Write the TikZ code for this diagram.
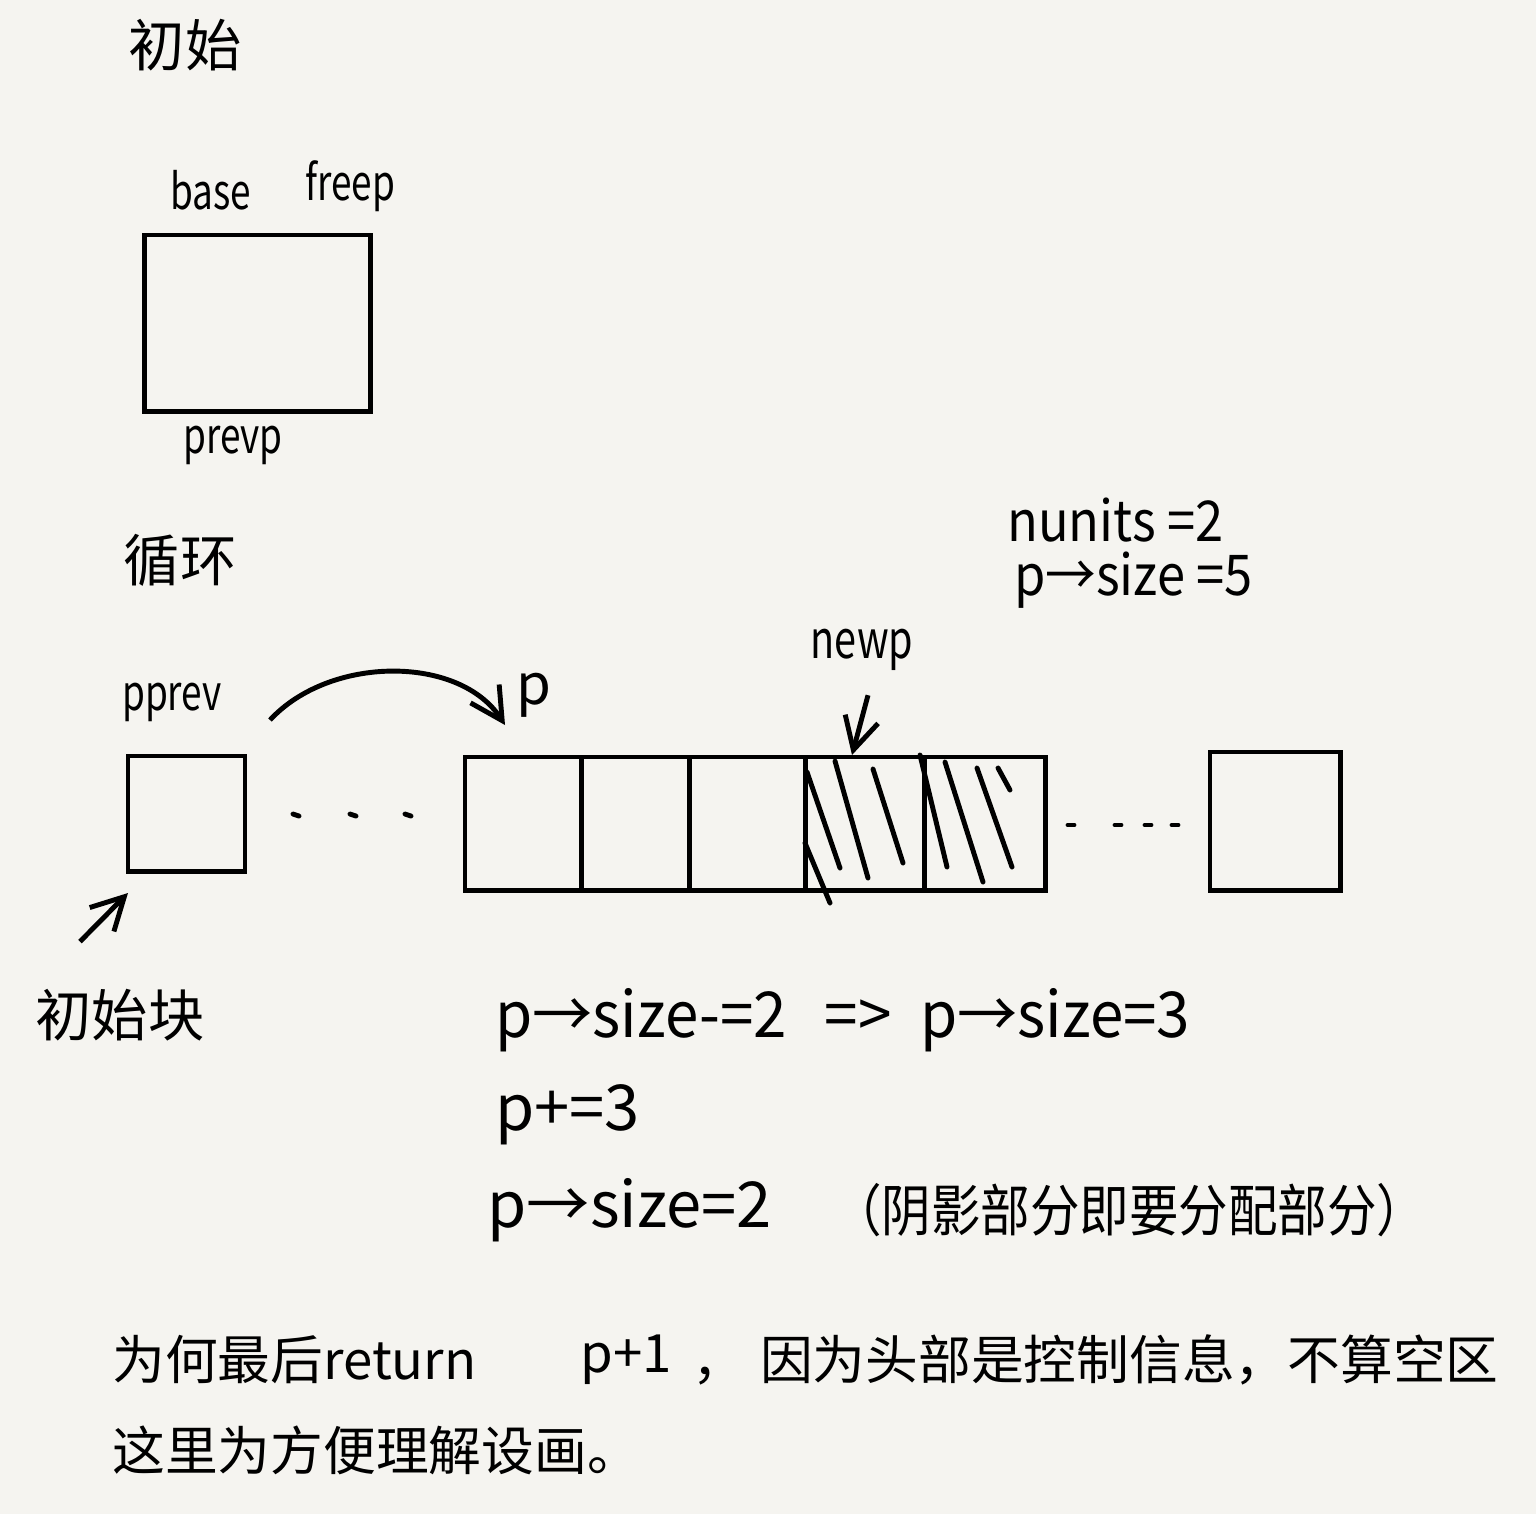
\documentclass[tikz,border=0pt]{standalone}
\usepackage{fontspec}
\setmainfont{Noto Sans CJK SC}
\usepackage{tikz}
\usetikzlibrary{arrows.meta}
\definecolor{paper}{HTML}{F5F4F0}

\begin{document}
\begin{tikzpicture}[auto,x=0.01cm,y=-0.01cm,line width=1.4pt,
    >={Straight Barb[length=3.2mm,width=3.4mm]},
    hand/.style={font=\fontsize{16}{19}\selectfont,inner sep=0pt},
    tag/.style={font=\fontsize{14}{17}\selectfont,inner sep=0pt,xscale=0.75},
    expr/.style={font=\fontsize{16}{19}\selectfont,inner sep=0pt,xscale=0.9},
    stepline/.style={font=\fontsize{18}{21}\selectfont,inner sep=0pt},
    remark/.style={font=\fontsize{15}{18}\selectfont,inner sep=0pt},
    cell/.style={draw,inner sep=0pt,outer sep=0pt,minimum height=1.33cm},
    hatch/.style={line cap=round}]
    \fill[paper] (0,0) rectangle (1536,1514);
    \useasboundingbox (0,0) rectangle (1536,1514);
    \node[hand] (init) at (185,45) {初始};
    \node[cell,minimum width=2.25cm,minimum height=1.76cm] (start) at (257.5,323) {};
    \node[tag] (base) at (211,190) {base};
    \node[tag] (freep) at (350,186) {freep};
    \node[tag] (prevp) at (233,445) {prevp};
    \node[hand] (loop) at (180,560) {循环};
    \node[cell,minimum width=1.17cm,minimum height=1.15cm] (pprevbox) at (186.5,813.5) {};
    \node[tag] (pprev) at (172,702) {pprev};
    \node[hand] (initblk) at (120,1015) {初始块};
    \node[cell,minimum width=1.16cm] (c1) at (523,823.5) {};
    \node[cell,minimum width=1.08cm] (c2) at (635,823.5) {};
    \node[cell,minimum width=1.16cm] (c3) at (747,823.5) {};
    \node[cell,minimum width=1.19cm] (c4) at (864.5,823.5) {};
    \node[cell,minimum width=1.21cm] (c5) at (984.5,823.5) {};
    \node[cell,minimum width=1.30cm,minimum height=1.38cm] (last) at (1275,821) {};
    \node[hand] (p) at (534,695) {p};
    \node[tag,font=\fontsize{15}{18}\selectfont] (newp) at (862,650) {newp};
    \node[expr,anchor=west] (nunits) at (1005,520) {nunits =2};
    \node[expr,anchor=west] (size5) at (1012,580) {p→size =5};
    \node[stepline,anchor=west,xscale=0.95] (step1) at (493,1020) {p→size-=2\hspace{0.4cm}=>\hspace{0.3cm}p→size=3};
    \node[stepline,anchor=west] (step2) at (493,1115) {p+=3};
    \node[stepline,anchor=west] (step3) at (485,1210) {p→size=2};
    \node[hand,anchor=west,xscale=0.88] (note) at (830,1210) {（阴影部分即要分配部分）};
    \node[remark,anchor=west] (why) at (110,1360) {为何最后return};
    \node[remark,anchor=west] (whyp) at (578,1360) {p+1};
    \node[remark,anchor=west] (whyrest) at (690,1360) {，\hspace{0.15cm}因为头部是控制信息，不算空区};
    \node[remark,anchor=west] (why2) at (110,1450) {这里为方便理解设画。};
    \coordinate (arcstart) at (270,720);
    \coordinate (arcend) at (505,725);
    \coordinate (newptip) at (852,755);
    \coordinate (blktip) at (128,893);
    \draw [->] (arcstart) .. controls (330,655) and (460,655) .. (arcend);
    \draw [->] ([shift={(6,22)}]newp.south) -- (newptip);
    \draw [->] ([shift={(-40,-45)}]initblk.north) -- (blktip);
    \foreach \x in {293,350,405}
      \draw[line cap=round] (\x,814) -- (\x+6,816);
    \foreach \x in {1068,1115,1145,1172}
      \draw[line cap=round] (\x,825) -- (\x+6,825);
    \foreach \a/\b/\c/\d in {807/772/840/868, 835/761/868/878, 873/769/903/863, 805/843/830/903,
        920/755/947/867, 945/762/983/882, 977/768/1012/867, 998/768/1010/790}
      \draw[hatch] (\a,\b) -- (\c,\d);
\end{tikzpicture}
\end{document}
